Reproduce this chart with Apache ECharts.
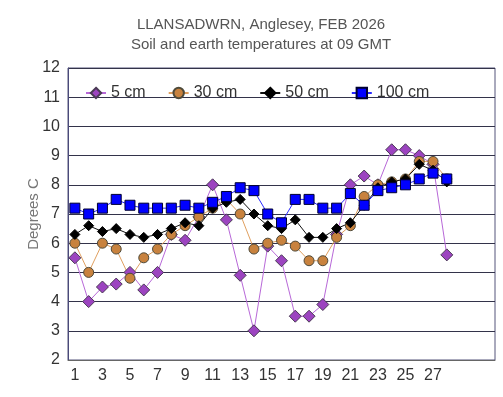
<!DOCTYPE html>
<html>
<head>
<meta charset="utf-8">
<script src="https://cdn.jsdelivr.net/npm/echarts@6/dist/echarts.min.js"></script>
<style>
html, body { margin: 0; padding: 0; background: #fff; }
#chart { width: 503px; height: 397px; }
</style>
</head>
<body>
<div id="chart"></div>
<script>
// categories (Feb has 28 days, axis runs on to 31 as in the original)
var days = [];
for (var d = 1; d <= 31; d++) days.push(String(d));
var xTickLabels = ['1','3','5','7','9','11','13','15','17','19','21','23','25','27'];

// temperatures, degrees C
var t5cm   = [5.5, 4.0, 4.5, 4.6, 5.0, 4.4, 5.0, 6.3, 6.1, 6.9, 8.0, 6.8, 4.9, 3.0, 5.9, 5.4, 3.5, 3.5, 3.9, 6.3, 8.0, 8.3, 8.0, 9.2, 9.2, 9.0, 8.7, 5.6];
var t30cm  = [6.0, 5.0, 6.0, 5.8, 4.8, 5.5, 5.8, 6.3, 6.6, 6.9, 7.2, 7.5, 7.0, 5.8, 6.0, 6.1, 5.9, 5.4, 5.4, 6.2, 6.6, 7.6, 8.0, 8.1, 8.2, 8.8, 8.8, 8.2];
var t50cm  = [6.3, 6.6, 6.4, 6.5, 6.3, 6.2, 6.3, 6.5, 6.7, 6.6, 7.2, 7.4, 7.5, 7.0, 6.6, 6.5, 6.8, 6.2, 6.2, 6.5, 6.7, 7.3, 7.9, 8.1, 8.2, 8.7, 8.5, 8.1];
var t100cm = [7.2, 7.0, 7.2, 7.5, 7.3, 7.2, 7.2, 7.2, 7.3, 7.2, 7.4, 7.6, 7.9, 7.8, 7.0, 6.7, 7.5, 7.5, 7.2, 7.2, 7.7, 7.3, 7.8, 7.9, 8.0, 8.2, 8.4, 8.2];

var chart = echarts.init(document.getElementById('chart'));

function mkSeries(name, data, symbol, size, fill, border, lineColor) {
	return {
		name: name,
		type: 'line',
		data: data,
		symbol: symbol,
		symbolSize: size,
		showAllSymbol: true,
		animation: false,
		itemStyle: { color: fill, borderColor: border, borderWidth: 1 },
		lineStyle: { color: lineColor, width: 1 }
	};
}

var option = {
	backgroundColor: '#fff',
	title: {
		text: 'LLANSADWRN, Anglesey, FEB 2026\nSoil and earth temperatures at 09 GMT',
		left: 256,
		textAlign: 'center',
		top: 10,
		textStyle: { fontFamily: 'Liberation Sans', fontSize: 15, fontWeight: 'normal', color: '#555', lineHeight: 20 }
	},
	legend: {
		left: 80,
		top: 80,
		itemWidth: 20,
		itemHeight: 13,
		itemGap: 22,
		textStyle: { fontFamily: 'Liberation Sans', fontSize: 16, color: '#333', width: 44 },
		data: ['5 cm', '30 cm', '50 cm', '100 cm']
	},
	grid: {
		left: 68, right: 8, top: 68, bottom: 37,
		show: true,
		borderColor: '#55557a',
		borderWidth: 1
	},
	xAxis: {
		type: 'category',
		data: days,
		boundaryGap: true,
		axisLine: { lineStyle: { color: '#666' } },
		axisTick: { show: false },
		axisLabel: {
			interval: 0,
			margin: 8,
			fontFamily: 'Liberation Sans',
			fontSize: 16,
			color: '#333',
			formatter: function (v) { return xTickLabels.indexOf(v) >= 0 ? v : ''; }
		},
		splitLine: { show: false }
	},
	yAxis: {
		type: 'value',
		min: 2,
		max: 12,
		interval: 1,
		name: 'Degrees C',
		nameLocation: 'middle',
		nameGap: 27,
		nameMoveOverlap: false,
		nameTextStyle: { fontFamily: 'Liberation Sans', fontSize: 15, color: '#777' },
		axisLine: { show: true, lineStyle: { color: '#4a4a7a' } },
		axisTick: { show: false },
		axisLabel: { fontFamily: 'Liberation Sans', fontSize: 16, color: '#333', margin: 8 },
		splitLine: { lineStyle: { color: '#33334a', width: 1 } }
	},
	series: [
		mkSeries('5 cm', t5cm, 'diamond', 12, '#9c44c0', '#4a3a55', '#b868d8'),
		mkSeries('30 cm', t30cm, 'circle', 10, '#c8823e', '#4e4a3a', '#e0a060'),
		mkSeries('50 cm', t50cm, 'diamond', 10, '#000', '#000', '#111'),
		mkSeries('100 cm', t100cm, 'rect', 10, '#0000ff', '#000030', '#2a2aff')
	]
};

chart.setOption(option);
</script>
</body>
</html>
